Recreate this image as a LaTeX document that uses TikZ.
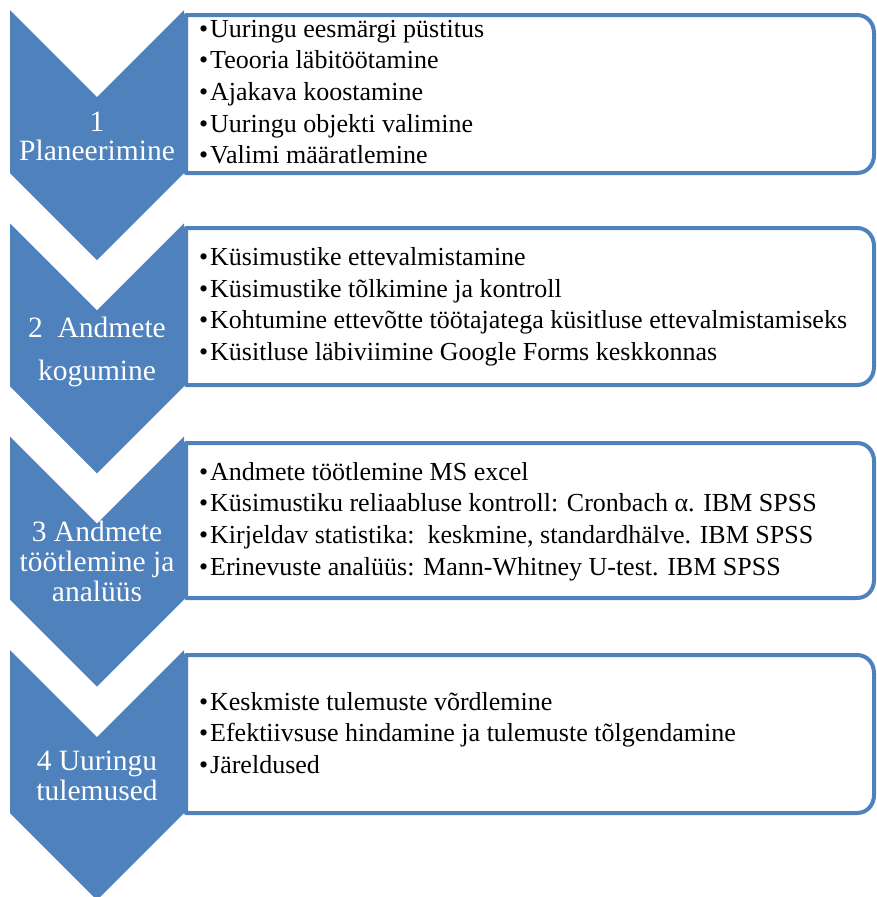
\documentclass[tikz,border=0pt]{standalone}
\usepackage{fontspec}
\setmainfont{Liberation Serif}
\definecolor{accblue}{HTML}{4F81BD}
\tikzset{
  chev/.style={fill=accblue, draw=none},
  boxline/.style={draw=accblue, line width=4pt, fill=white, line join=round},
  chevtext/.style={text=white, font=\fontsize{29.5}{30}\selectfont, anchor=base, inner sep=0pt},
  itemtext/.style={text=black, font=\fontsize{26}{31}\selectfont, anchor=base west, inner sep=0pt},
}
\newcommand{\bul}{\makebox[11pt][l]{•}}
\begin{document}
\begin{tikzpicture}[x=1pt,y=-1pt]
\useasboundingbox (0,0) rectangle (877,897);
% boxes
\foreach \t/\b in {15/173, 228/385, 443/598, 655/813}{
  \draw[boxline] (186,\b) -- (186,\t) -- (857,\t) .. controls (867,\t) and (874,\t+8) .. (874,\t+18)
     -- (874,\b-18) .. controls (874,\b-8) and (867,\b) .. (857,\b) -- cycle;
}
% chevrons
\foreach \t in {10, 223.3, 436.7, 650}{
  \fill[chev] (10,\t) -- (97,\t+87) -- (184,\t) -- (184,\t+163) -- (97,\t+250) -- (10,\t+163) -- cycle;
}
% chevron labels
\node[chevtext] (c1a) at (97,131) {1};
\node[chevtext] (c1b) at (97,160.5) {Planeerimine};
\node[chevtext] (c2a) at (97,337) {2\ \ Andmete};
\node[chevtext] (c2b) at (97,380) {kogumine};
\node[chevtext] (c3a) at (97,541.7) {3 Andmete};
\node[chevtext] (c3b) at (97,571.7) {töötlemine ja};
\node[chevtext] (c3c) at (97,601.7) {analüüs};
\node[chevtext] (c4a) at (97,770) {4 Uuringu};
\node[chevtext] (c4b) at (97,800) {tulemused};
% box 1
\node[itemtext] (b1a) at (199,37) {\bul Uuringu eesmärgi püstitus};
\node[itemtext] (b1b) at (199,68.7) {\bul Teooria läbitöötamine};
\node[itemtext] (b1c) at (199,100.4) {\bul Ajakava koostamine};
\node[itemtext] (b1d) at (199,132.1) {\bul Uuringu objekti valimine};
\node[itemtext] (b1e) at (199,163.8) {\bul Valimi määratlemine};
% box 2
\node[itemtext] (b2a) at (199,265.5) {\bul Küsimustike ettevalmistamine};
\node[itemtext] (b2b) at (199,297.2) {\bul Küsimustike tõlkimine ja kontroll};
\node[itemtext] (b2c) at (199,328.9) {\bul Kohtumine ettevõtte töötajatega küsitluse ettevalmistamiseks};
\node[itemtext] (b2d) at (199,360.6) {\bul Küsitluse läbiviimine Google Forms keskkonnas};
% box 3
\node[itemtext] (b3a) at (199,480) {\bul Andmete töötlemine MS excel};
\node[itemtext] (b3b) at (199,511.7) {\bul Küsimustiku reliaabluse kontroll: Cronbach α. IBM SPSS};
\node[itemtext] (b3c) at (199,543.4) {\bul Kirjeldav statistika:\ \ keskmine, standardhälve. IBM SPSS};
\node[itemtext] (b3d) at (199,575.1) {\bul Erinevuste analüüs: Mann-Whitney U-test. IBM SPSS};
% box 4
\node[itemtext] (b4a) at (199,710) {\bul Keskmiste tulemuste võrdlemine};
\node[itemtext] (b4b) at (199,741.7) {\bul Efektiivsuse hindamine ja tulemuste tõlgendamine};
\node[itemtext] (b4c) at (199,773.4) {\bul Järeldused};
\end{tikzpicture}
\end{document}
